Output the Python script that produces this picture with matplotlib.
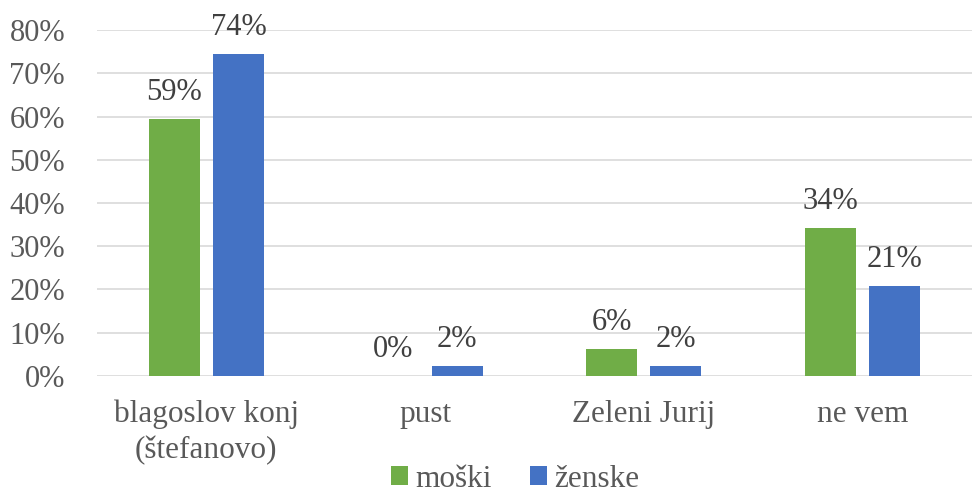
import numpy as np
import matplotlib.pyplot as plt
from matplotlib.ticker import FuncFormatter

categories = ["blagoslov konj\n(štefanovo)", "pust", "Zeleni Jurij", "ne vem"]
moski = [59.4, 0.0, 6.2, 34.3]
zenske = [74.4, 2.3, 2.3, 20.8]
series_names = ["moški", "ženske"]

plt.rcParams['font.family'] = ['Liberation Serif', 'DejaVu Serif']
text_col = '#595959'

fig = plt.figure(figsize=(9.72, 4.97), dpi=100)
ax = fig.add_axes([0.0998, 0.2435, 0.9, 0.6961])

x = np.arange(len(categories))
w = 0.233
off = (w + 0.06) / 2
b1 = ax.bar(x - off, moski, w, color='#70AD47', label=series_names[0], zorder=3)
b2 = ax.bar(x + off, zenske, w, color='#4472C4', label=series_names[1], zorder=3)

for bars, vals in ((b1, moski), (b2, zenske)):
    for r, v in zip(bars, vals):
        ax.text(r.get_x() + r.get_width() / 2, v + 2.8, "{:.0f}%".format(v),
                ha='center', va='bottom', fontsize=22, color='#404040')

ax.set_xlim(-0.5, 3.5)
ax.set_ylim(0, 80)
ax.set_yticks(np.arange(0, 81, 10))
ax.yaxis.set_major_formatter(FuncFormatter(lambda v, p: "{:.0f}%".format(v)))
ax.grid(axis='y', color='#D9D9D9', linewidth=1.2, zorder=0)
for s in ax.spines.values():
    s.set_visible(False)
ax.tick_params(axis='both', length=0, labelsize=22, colors=text_col)
ax.tick_params(axis='x', pad=17, labelsize=22.5)
ax.tick_params(axis='y', pad=23)
ax.set_xticks(x)
ax.set_xticklabels(categories, linespacing=1.3)

fig.legend(handles=[b1, b2], labels=series_names, loc='lower center', ncol=2,
           bbox_to_anchor=(0.53, -0.05), frameon=False, fontsize=22.5,
           handlelength=0.55, handleheight=0.55, handletextpad=0.25, columnspacing=1.2,
           labelcolor=text_col)

fig.savefig("out.png", dpi=100)
